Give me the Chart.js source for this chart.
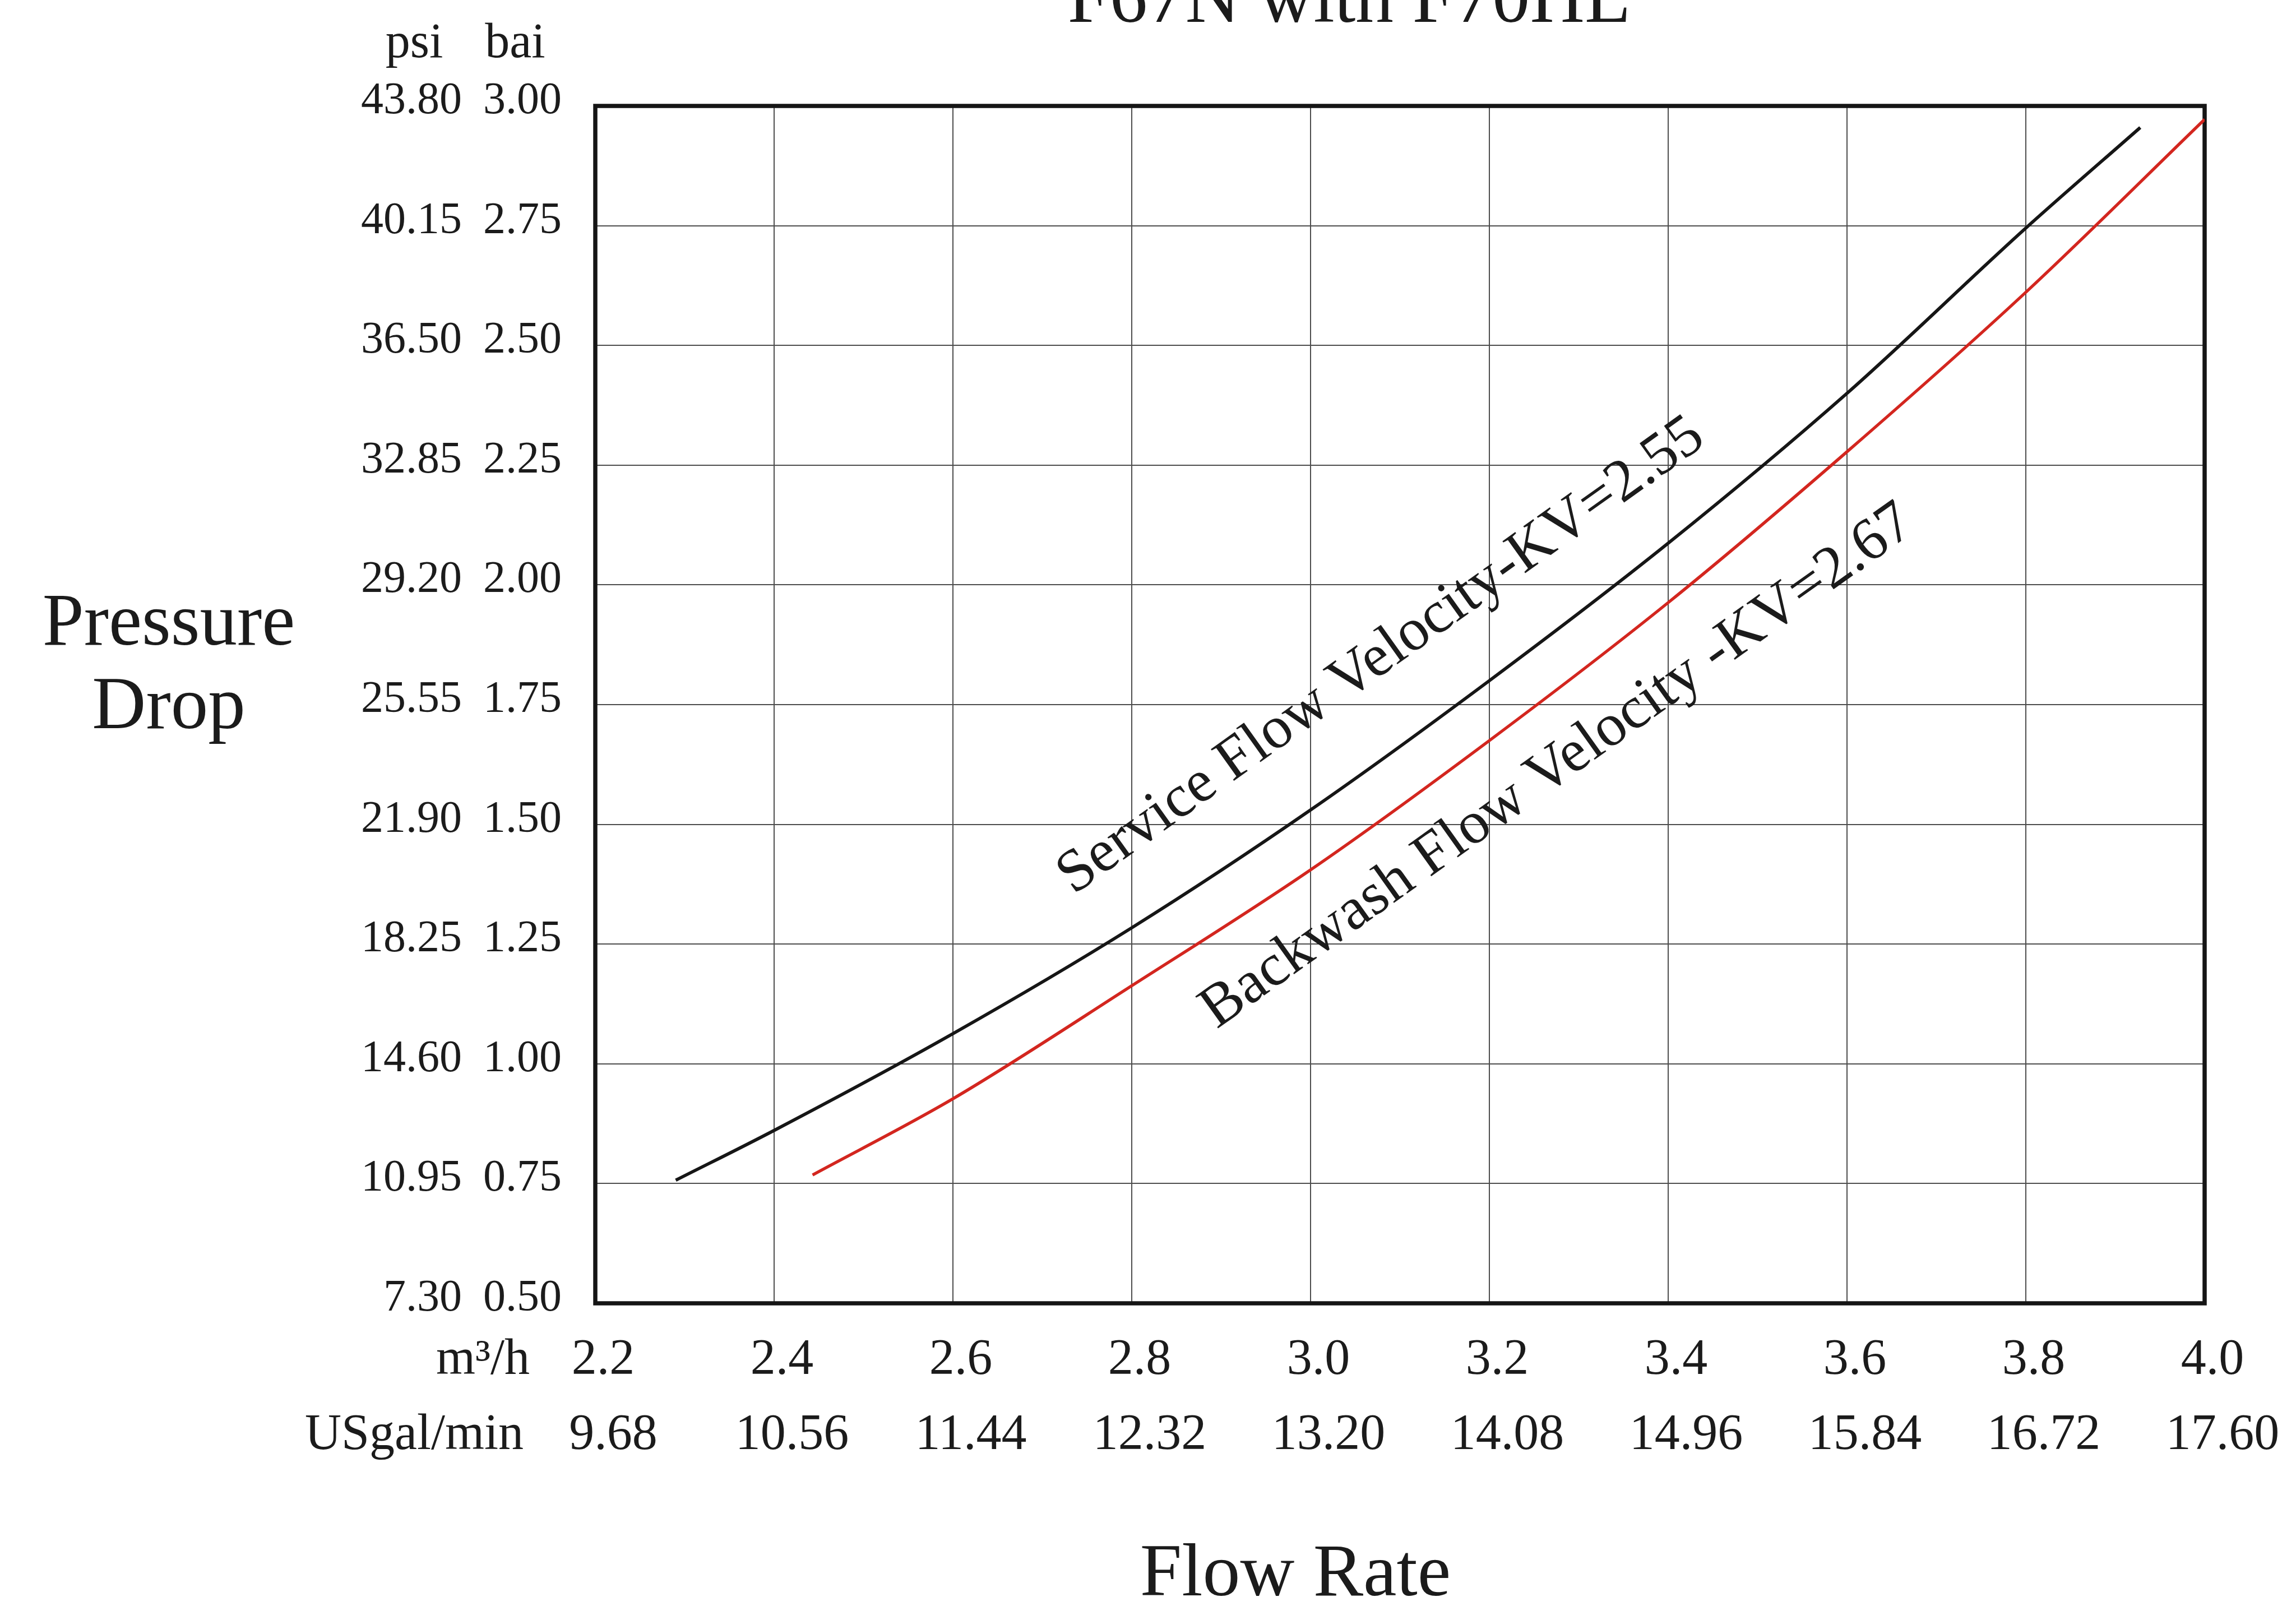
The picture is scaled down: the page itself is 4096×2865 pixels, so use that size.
<!DOCTYPE html>
<html>
<head>
<meta charset="utf-8">
<title>F67N with F70HL</title>
<script src="https://cdn.jsdelivr.net/npm/chart.js@4.4.1/dist/chart.umd.min.js"></script>
<style>
  html, body { margin: 0; padding: 0; background: #fff; }
  #wrap { width: 4096px; height: 2865px; position: relative; }
</style>
</head>
<body>
<div id="wrap"><canvas id="myChart"></canvas></div>
<script>
// flow rate ticks in m3/h, with the same ticks in US gal/min
const flowTicks = [2.2, 2.4, 2.6, 2.8, 3.0, 3.2, 3.4, 3.6, 3.8, 4.0];
const flowLabels = ['2.2', '2.4', '2.6', '2.8', '3.0', '3.2', '3.4', '3.6', '3.8', '4.0'];
const galLabels = ['9.68', '10.56', '11.44', '12.32', '13.20', '14.08', '14.96', '15.84', '16.72', '17.60'];

// pressure drop ticks in bar, with the same ticks in psi
const barTicks = [0.5, 0.75, 1.0, 1.25, 1.5, 1.75, 2.0, 2.25, 2.5, 2.75, 3.0];
const barLabels = ['0.50', '0.75', '1.00', '1.25', '1.50', '1.75', '2.00', '2.25', '2.50', '2.75', '3.00'];
const psiLabels = ['7.30', '10.95', '14.60', '18.25', '21.90', '25.55', '29.20', '32.85', '36.50', '40.15', '43.80'];

// service flow curve (KV=2.55)
const serviceFlow = [2.29, 2.4, 2.6, 2.8, 3.0, 3.2, 3.4, 3.6, 3.8, 3.928];
const serviceDrop = [0.757, 0.861, 1.063, 1.284, 1.530, 1.800, 2.087, 2.400, 2.745, 2.955];

// backwash flow curve (KV=2.67)
const backwashFlow = [2.443, 2.6, 2.8, 3.0, 3.2, 3.4, 3.6, 3.8, 4.0];
const backwashDrop = [0.768, 0.927, 1.163, 1.405, 1.675, 1.963, 2.278, 2.611, 2.972];

const SERIF = "'Liberation Serif', 'Times New Roman', serif";
const INK = '#1b1b1b';
const GRID = '#4d4d4d';

Chart.defaults.font.family = SERIF;
Chart.defaults.color = INK;

const toPoints = (xs, ys) => xs.map((v, i) => ({ x: v, y: ys[i] }));
const fixTicks = (values) => (scale) => { scale.ticks = values.map(v => ({ value: v })); };

// frame round the plot area plus the free text (titles, units, curve names)
const chartText = {
  id: 'chartText',
  beforeDatasetsDraw(chart) {
    const { ctx, chartArea: a } = chart;
    ctx.save();
    ctx.strokeStyle = '#151515';
    ctx.lineWidth = 7.5;
    ctx.strokeRect(a.left, a.top, a.right - a.left, a.bottom - a.top);
    ctx.restore();
  },
  afterDraw(chart) {
    const { ctx } = chart;
    const xs = chart.scales.x, ys = chart.scales.y;
    ctx.save();
    ctx.fillStyle = INK;

    ctx.textAlign = 'center';
    ctx.textBaseline = 'alphabetic';
    ctx.font = `135px ${SERIF}`;
    ctx.fillText('F67N with F70HL', 2407, 39);

    ctx.font = `133px ${SERIF}`;
    ctx.fillText('Pressure', 301, 1150);
    ctx.fillText('Drop', 301, 1299);
    ctx.font = `134px ${SERIF}`;
    ctx.fillText('Flow Rate', 2311, 2846);

    ctx.font = `88px ${SERIF}`;
    ctx.fillText('psi', 739, 102);
    ctx.fillText('bai', 919, 102);

    ctx.textAlign = 'right';
    ctx.textBaseline = 'middle';
    ctx.font = `90px ${SERIF}`;
    ctx.fillText('m\u00b3/h', 945, 2427);
    ctx.fillText('USgal/min', 934, 2561);

    // curve names, laid along each curve
    ctx.font = `107px ${SERIF}`;
    ctx.textAlign = 'left';
    ctx.textBaseline = 'alphabetic';
    const along = (text, fx, py) => {
      ctx.save();
      ctx.translate(xs.getPixelForValue(fx), ys.getPixelForValue(py));
      ctx.rotate(-35.5 * Math.PI / 180);
      ctx.fillText(text, 0, 0);
      ctx.restore();
    };
    along('Service Flow Velocity-KV=2.55', 2.735, 1.352);
    along('Backwash Flow Velocity -KV=2.67', 2.895, 1.072);
    ctx.restore();
  }
};

const ctx = document.getElementById('myChart').getContext('2d');
new Chart(ctx, {
  type: 'line',
  data: {
    datasets: [
      {
        label: 'Service Flow Velocity-KV=2.55',
        data: toPoints(serviceFlow, serviceDrop),
        borderColor: '#161616',
        borderWidth: 5.8,
        pointRadius: 0,
        cubicInterpolationMode: 'monotone',
        borderCapStyle: 'butt'
      },
      {
        label: 'Backwash Flow Velocity -KV=2.67',
        data: toPoints(backwashFlow, backwashDrop),
        borderColor: '#d3261f',
        borderWidth: 5.4,
        pointRadius: 0,
        cubicInterpolationMode: 'monotone',
        borderCapStyle: 'butt'
      }
    ]
  },
  options: {
    responsive: true,
    maintainAspectRatio: false,
    devicePixelRatio: 1,
    animation: false,
    layout: { padding: { left: 0, right: 163, top: 189, bottom: 256 } },
    plugins: {
      legend: { display: false },
      tooltip: { enabled: false },
      title: { display: false }
    },
    scales: {
      x: {
        type: 'linear',
        position: 'bottom',
        min: 2.2,
        max: 4.0,
        afterBuildTicks: fixTicks(flowTicks),
        afterFit: (s) => { s.height = 134; },
        grid: { color: GRID, lineWidth: 2, drawTicks: false },
        border: { display: false },
        ticks: {
          padding: 48,
          labelOffset: 14,
          maxRotation: 0,
          autoSkip: false,
          color: INK,
          font: { size: 90 },
          callback: (v, i) => flowLabels[i]
        }
      },
      x2: {
        type: 'linear',
        position: 'bottom',
        weight: 1,
        min: 2.2,
        max: 4.0,
        afterBuildTicks: fixTicks(flowTicks),
        afterFit: (s) => { s.height = 150; },
        grid: { display: false, drawTicks: false },
        border: { display: false },
        ticks: {
          padding: 48,
          labelOffset: 32,
          maxRotation: 0,
          autoSkip: false,
          color: INK,
          font: { size: 90 },
          callback: (v, i) => galLabels[i]
        }
      },
      y: {
        type: 'linear',
        position: 'left',
        min: 0.5,
        max: 3.0,
        afterBuildTicks: fixTicks(barTicks),
        afterFit: (s) => { s.width = 200; },
        grid: { color: GRID, lineWidth: 2, drawTicks: false },
        border: { display: false },
        ticks: {
          padding: 60,
          labelOffset: -8,
          autoSkip: false,
          color: INK,
          font: { size: 80 },
          callback: (v, i) => barLabels[i]
        }
      },
      yPsi: {
        type: 'linear',
        position: 'left',
        weight: 1,
        min: 0.5,
        max: 3.0,
        afterBuildTicks: fixTicks(barTicks),
        afterFit: (s) => { s.width = 862; },
        grid: { display: false, drawTicks: false },
        border: { display: false },
        ticks: {
          padding: 38,
          labelOffset: -8,
          autoSkip: false,
          color: INK,
          font: { size: 80 },
          callback: (v, i) => psiLabels[i]
        }
      }
    }
  },
  plugins: [chartText]
});
</script>
</body>
</html>
